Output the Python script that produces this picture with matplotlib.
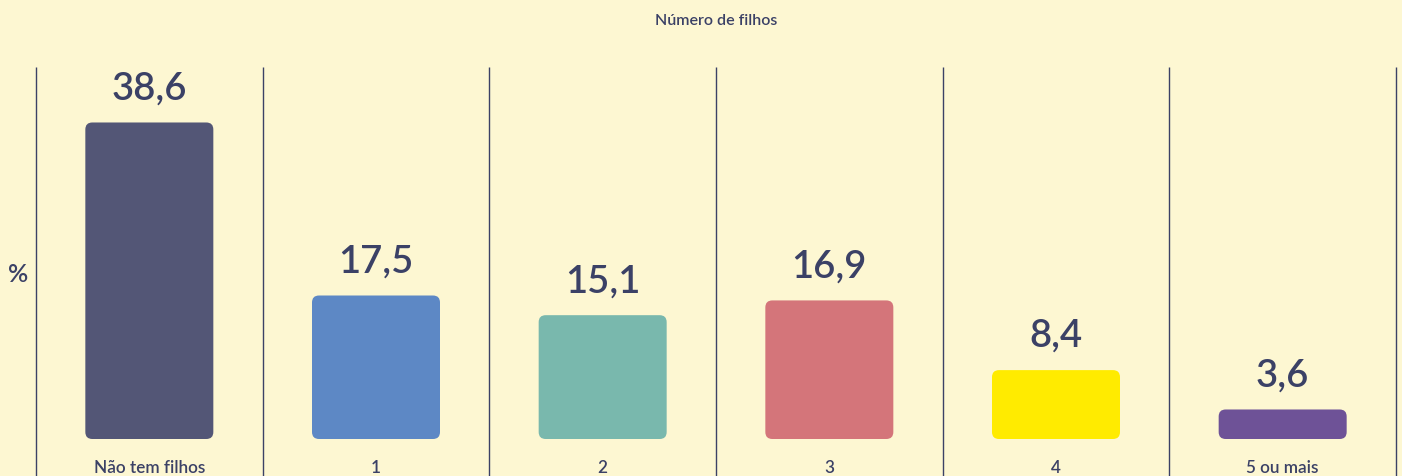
import matplotlib
matplotlib.use("Agg")
import matplotlib.pyplot as plt
from matplotlib.patches import FancyBboxPatch

categories = ["Não tem filhos", "1", "2", "3", "4", "5 ou mais"]
values = [38.6, 17.5, 15.1, 16.9, 8.4, 3.6]
value_labels = ["38,6", "17,5", "15,1", "16,9", "8,4", "3,6"]
colors = ["#535676", "#5d88c5", "#79b8ad", "#d4757a", "#ffeb00", "#6e5297"]
title = "Número de filhos"
ylabel = "%"

W, H, DPI = 1402, 477, 100
BG = "#fdf7d2"
TXT = "#3b4166"
FONT = "Lato"

fig = plt.figure(figsize=(W / DPI, H / DPI), dpi=DPI, facecolor=BG)
left_px, right_px = 36, 1396
ax = fig.add_axes([left_px / W, 0, (right_px - left_px) / W, 1])
ax.set_facecolor(BG)
for s in ax.spines.values():
    s.set_visible(False)
ax.set_xticks([])
ax.set_yticks([])

pxu = 8.2  # pixels per unit
base_px = 440  # baseline from top
ax.set_xlim(0, len(categories))
ax.set_ylim(-(H - base_px) / pxu, base_px / pxu)

n = len(categories)
xs = [i + 0.5 for i in range(n)]
bw = 128 / ((right_px - left_px) / n)
bars = ax.bar(xs, values, width=bw, color="none", edgecolor="none")

# rounded corners
px_x = n / (right_px - left_px)  # data x per pixel
px_y = 1 / pxu
r = 7
for b, c in zip(bars, colors):
    x0, y0 = b.get_x(), b.get_y()
    w, h = b.get_width(), b.get_height()
    rx, ry = r * px_x, r * px_y
    p = FancyBboxPatch((x0 + rx, y0 + ry), w - 2 * rx, h - 2 * ry,
                       boxstyle=f"round,pad={rx},rounding_size={rx}",
                       mutation_aspect=ry / rx, facecolor=c, edgecolor="none")
    ax.add_patch(p)

for x, v, lab in zip(xs, values, value_labels):
    ax.text(x, v + 24 / pxu, lab, ha="center", va="baseline",
            fontsize=27.5, color=TXT, family=FONT, fontweight="semibold")

for x, cat in zip(xs, categories):
    ax.text(x, -(468 - base_px) / pxu, cat, ha="center", va="center",
            fontsize=12.3, color=TXT, family=FONT, fontweight="semibold")

# separator lines
ax.vlines(range(n + 1), -(H - base_px) / pxu, (base_px - 68) / pxu,
          color=TXT, linewidth=1, clip_on=False)

fig.text(716 / W, 1 - 21 / H, title, ha="center", va="center",
         fontsize=11.5, color=TXT, family=FONT, fontweight="semibold")
fig.text(18 / W, 1 - 275 / H, ylabel, ha="center", va="center",
         fontsize=18, color=TXT, family=FONT, fontweight="semibold")

fig.savefig("out.png", dpi=DPI, facecolor=BG)
